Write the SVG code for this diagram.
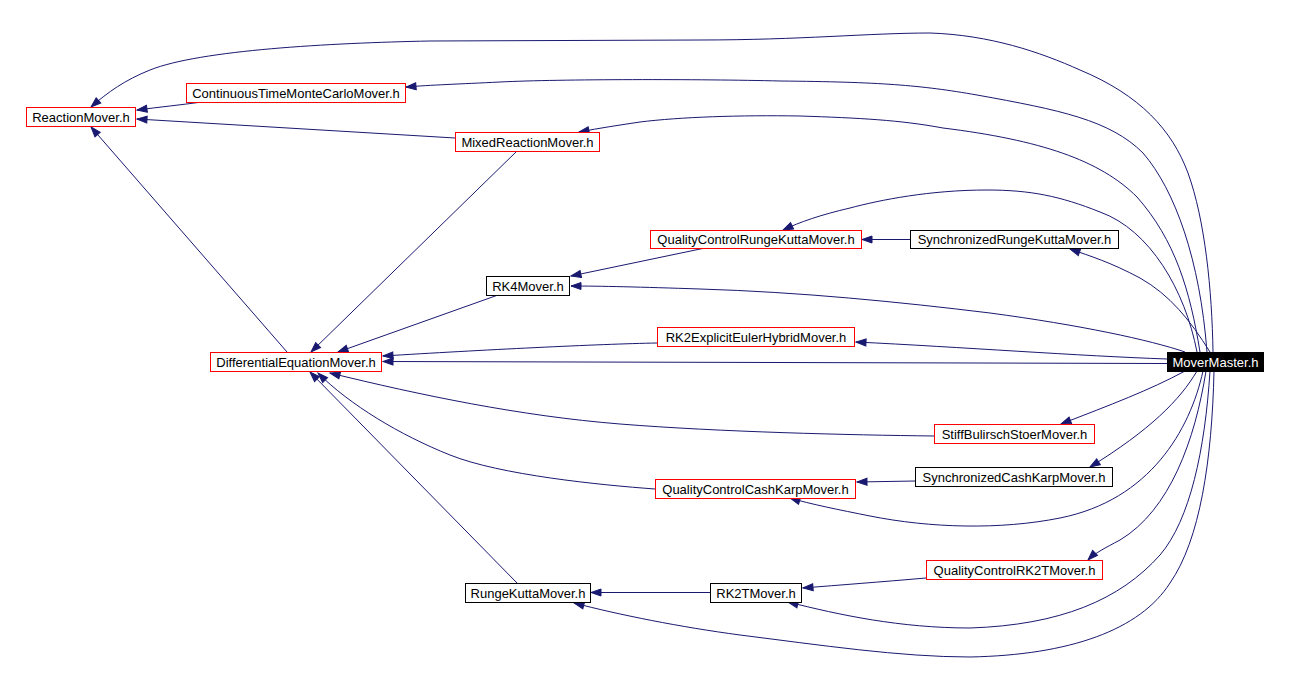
<svg xmlns="http://www.w3.org/2000/svg" width="1289" height="690" viewBox="0 0 1289 690">
<style>
.n rect{fill:#fff;stroke:#000;stroke-width:1}
.n.r rect{stroke:#ff0000}
.n text{font-family:"Liberation Sans",Arial,sans-serif;font-size:13px;fill:#000;text-anchor:middle}
#MoverMaster rect{fill:#000;stroke:#000}
#MoverMaster text{fill:#fff}
.e path{fill:none;stroke:#191970;stroke-width:1;marker-end:url(#ah)}
</style>
<defs>
<marker id="ah" markerUnits="userSpaceOnUse" markerWidth="12" markerHeight="10" refX="10" refY="4" orient="auto" overflow="visible">
<path d="M0,0.5 L10,4 L0,7.5 Z" fill="#191970" stroke="#191970" stroke-width="1"/>
</marker>
</defs>
<rect width="1289" height="690" fill="#fff"/>
<g id="edges" class="e">
<path d="M1213,352 C1212,290 1205,220 1188,173 C1172,130 1140,95 1080,70 C1040,52 990,35 930,33 C870,33 800,40 700,40 L430,41 C330,43 200,50 150,70 C125,80 108,92 91,107"/>
<path d="M1207,352 C1200,260 1175,190 1143,153 C1110,120 1060,110 977,95 C920,85 880,82 780,81 C700,79 560,79 500,82 C460,84 430,85 406,87"/>
<path d="M1200,352 C1190,290 1175,240 1137,197 C1100,160 1040,140 943,128 C900,120 860,118 800,116 C740,115 680,117 640,122 C620,125 600,128 579,132"/>
<path d="M202,102 C180,105 160,107 137,110"/>
<path d="M455,138 L137,119"/>
<path d="M517,151 L311,352"/>
<path d="M287,352 L91,127"/>
<path d="M1197,352 C1185,290 1150,230 1100,212 C1060,196 1030,190 987,190 C930,190 880,200 850,208 C820,215 800,222 783,230"/>
<path d="M910,239.5 L862,239.5"/>
<path d="M1210,352 C1190,320 1170,295 1140,278 C1110,262 1090,256 1070,249"/>
<path d="M705,248 L571,276"/>
<path d="M1185,352 C1150,340 1080,325 990,313 C900,302 800,292 700,289 C640,287 600,286 571,286"/>
<path d="M498,295 L338,352"/>
<path d="M657,343 C600,344 480,350 383,356"/>
<path d="M1167,359 C1080,356 960,347 856,342"/>
<path d="M1167,363.5 L383,361.5"/>
<path d="M934,436 C850,435 720,432 620,424 C520,416 420,395 330,373"/>
<path d="M1185,371 C1150,390 1110,405 1061,424"/>
<path d="M655,489 C600,485 500,475 450,455 C400,435 350,405 318,373"/>
<path d="M915,481 L857,482"/>
<path d="M1197,371 C1180,400 1150,430 1090,467"/>
<path d="M1203,371 C1190,430 1150,500 1060,518 C1000,530 930,528 870,516 C840,510 810,504 790,498"/>
<path d="M517,583 L310,372"/>
<path d="M710,592.5 L591,592.5"/>
<path d="M926,578 C880,582 840,585 803,588"/>
<path d="M1206,371 C1195,440 1170,510 1120,540 C1105,548 1095,553 1088,560"/>
<path d="M1210,371 C1205,450 1190,520 1160,555 C1120,600 1060,625 970,628 C900,628 840,615 788,602"/>
<path d="M1214,371 C1212,460 1200,540 1170,583 C1140,630 1070,655 970,657 C900,657 820,645 740,635 C680,627 620,615 574,603"/>
</g>
<g id="ReactionMover" class="n r"><rect x="26.5" y="107.5" width="109" height="19"/><text x="81" y="121.5">ReactionMover.h</text></g>
<g id="ContinuousTimeMonteCarloMover" class="n r"><rect x="186.5" y="83.5" width="219" height="19"/><text x="296" y="97.5">ContinuousTimeMonteCarloMover.h</text></g>
<g id="MixedReactionMover" class="n r"><rect x="455.5" y="132.5" width="144" height="19"/><text x="527.5" y="146.5">MixedReactionMover.h</text></g>
<g id="QualityControlRungeKuttaMover" class="n r"><rect x="650.5" y="230.5" width="211" height="18"/><text x="756" y="244">QualityControlRungeKuttaMover.h</text></g>
<g id="SynchronizedRungeKuttaMover" class="n"><rect x="910.5" y="230.5" width="208" height="18"/><text x="1014.5" y="244">SynchronizedRungeKuttaMover.h</text></g>
<g id="RK4Mover" class="n"><rect x="486.5" y="276.5" width="83" height="19"/><text x="528" y="290.5">RK4Mover.h</text></g>
<g id="RK2ExplicitEulerHybridMover" class="n r"><rect x="657.5" y="327.5" width="197" height="19"/><text x="756" y="341.5">RK2ExplicitEulerHybridMover.h</text></g>
<g id="DifferentialEquationMover" class="n r"><rect x="210.5" y="352.5" width="171" height="19"/><text x="296" y="366.5">DifferentialEquationMover.h</text></g>
<g id="MoverMaster" class="n"><rect x="1167.5" y="352.5" width="96" height="19"/><text x="1215.5" y="366.5">MoverMaster.h</text></g>
<g id="StiffBulirschStoerMover" class="n r"><rect x="934.5" y="424.5" width="160" height="19"/><text x="1014.5" y="438.5">StiffBulirschStoerMover.h</text></g>
<g id="SynchronizedCashKarpMover" class="n"><rect x="915.5" y="467.5" width="197" height="19"/><text x="1014" y="481.5">SynchronizedCashKarpMover.h</text></g>
<g id="QualityControlCashKarpMover" class="n r"><rect x="655.5" y="479.5" width="200" height="19"/><text x="755.5" y="493.5">QualityControlCashKarpMover.h</text></g>
<g id="QualityControlRK2TMover" class="n r"><rect x="926.5" y="560.5" width="176" height="19"/><text x="1014.5" y="574.5">QualityControlRK2TMover.h</text></g>
<g id="RungeKuttaMover" class="n"><rect x="465.5" y="583.5" width="125" height="19"/><text x="528" y="597.5">RungeKuttaMover.h</text></g>
<g id="RK2TMover" class="n"><rect x="710.5" y="583.5" width="91" height="19"/><text x="756" y="597.5">RK2TMover.h</text></g>
</svg>
